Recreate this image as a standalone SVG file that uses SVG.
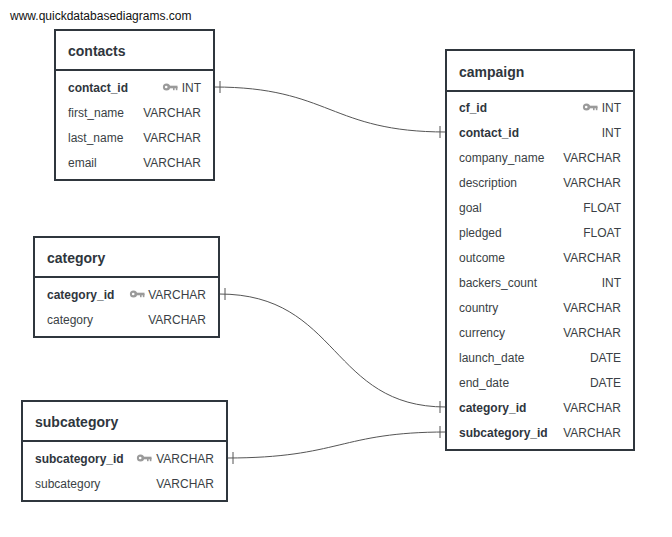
<svg xmlns="http://www.w3.org/2000/svg" width="672" height="537" viewBox="0 0 672 537">
<style>
.box{fill:#fff;stroke:#2f363d;stroke-width:2}
.div{stroke:#2f363d;stroke-width:2}
.t{font-family:"Liberation Sans",Arial,sans-serif;font-size:14px;font-weight:bold;fill:#2f363d}
.f{font-family:"Liberation Sans",Arial,sans-serif;font-size:12px;fill:#3a3f45}
.b{font-weight:bold;fill:#2f363d}
.r{text-anchor:end}
.c{fill:none;stroke:#555;stroke-width:1}
.k{fill:#9a9a9a}
</style>
<defs>
<g id="key">
<circle cx="3.5" cy="0" r="3.6" class="k"/>
<circle cx="3.2" cy="0" r="1.3" fill="#fff"/>
<rect x="6" y="-1.3" width="8.5" height="2.6" class="k"/>
<rect x="10" y="0" width="1.6" height="3.2" class="k"/>
<rect x="12.8" y="0" width="1.6" height="3.2" class="k"/>
</g>
</defs>
<rect width="672" height="537" fill="#fff"/>
<text x="10" y="20" font-family="Liberation Sans,Arial,sans-serif" font-size="12" fill="#111">www.quickdatabasediagrams.com</text>

<g id="connectors">
<path class="c" d="M214 87 C330 87 330 132 446 132"/>
<line class="c" x1="220" y1="81" x2="220" y2="93"/>
<line class="c" x1="440" y1="126" x2="440" y2="138"/>
<path class="c" d="M219 294 C340 294 330 407 446 407"/>
<line class="c" x1="225" y1="288" x2="225" y2="300"/>
<line class="c" x1="440" y1="401" x2="440" y2="413"/>
<path class="c" d="M227 458 C340 458 340 432 446 432"/>
<line class="c" x1="233" y1="452" x2="233" y2="464"/>
<line class="c" x1="440" y1="426" x2="440" y2="438"/>
</g>

<g id="contacts">
<rect class="box" x="55" y="30" width="159" height="150"/>
<line class="div" x1="55" y1="70" x2="214" y2="70"/>
<text class="t" x="68" y="56">contacts</text>
<text class="f b" x="68" y="92">contact_id</text><use href="#key" x="163" y="87"/><text class="f r" x="201" y="92">INT</text>
<text class="f" x="68" y="117">first_name</text><text class="f r" x="201" y="117">VARCHAR</text>
<text class="f" x="68" y="142">last_name</text><text class="f r" x="201" y="142">VARCHAR</text>
<text class="f" x="68" y="167">email</text><text class="f r" x="201" y="167">VARCHAR</text>
</g>

<g id="category">
<rect class="box" x="34" y="237" width="185" height="100"/>
<line class="div" x1="34" y1="277" x2="219" y2="277"/>
<text class="t" x="47" y="263">category</text>
<text class="f b" x="47" y="299">category_id</text><use href="#key" x="130" y="294"/><text class="f r" x="206" y="299">VARCHAR</text>
<text class="f" x="47" y="324">category</text><text class="f r" x="206" y="324">VARCHAR</text>
</g>

<g id="subcategory">
<rect class="box" x="22" y="401" width="205" height="100"/>
<line class="div" x1="22" y1="441" x2="227" y2="441"/>
<text class="t" x="35" y="427">subcategory</text>
<text class="f b" x="35" y="463">subcategory_id</text><use href="#key" x="137" y="458"/><text class="f r" x="214" y="463">VARCHAR</text>
<text class="f" x="35" y="488">subcategory</text><text class="f r" x="214" y="488">VARCHAR</text>
</g>

<g id="campaign">
<rect class="box" x="446" y="50" width="188" height="400"/>
<line class="div" x1="446" y1="91" x2="634" y2="91"/>
<text class="t" x="459" y="77">campaign</text>
<text class="f b" x="459" y="112">cf_id</text><use href="#key" x="583" y="107"/><text class="f r" x="621" y="112">INT</text>
<text class="f b" x="459" y="137">contact_id</text><text class="f r" x="621" y="137">INT</text>
<text class="f" x="459" y="162">company_name</text><text class="f r" x="621" y="162">VARCHAR</text>
<text class="f" x="459" y="187">description</text><text class="f r" x="621" y="187">VARCHAR</text>
<text class="f" x="459" y="212">goal</text><text class="f r" x="621" y="212">FLOAT</text>
<text class="f" x="459" y="237">pledged</text><text class="f r" x="621" y="237">FLOAT</text>
<text class="f" x="459" y="262">outcome</text><text class="f r" x="621" y="262">VARCHAR</text>
<text class="f" x="459" y="287">backers_count</text><text class="f r" x="621" y="287">INT</text>
<text class="f" x="459" y="312">country</text><text class="f r" x="621" y="312">VARCHAR</text>
<text class="f" x="459" y="337">currency</text><text class="f r" x="621" y="337">VARCHAR</text>
<text class="f" x="459" y="362">launch_date</text><text class="f r" x="621" y="362">DATE</text>
<text class="f" x="459" y="387">end_date</text><text class="f r" x="621" y="387">DATE</text>
<text class="f b" x="459" y="412">category_id</text><text class="f r" x="621" y="412">VARCHAR</text>
<text class="f b" x="459" y="437">subcategory_id</text><text class="f r" x="621" y="437">VARCHAR</text>
</g>
</svg>
